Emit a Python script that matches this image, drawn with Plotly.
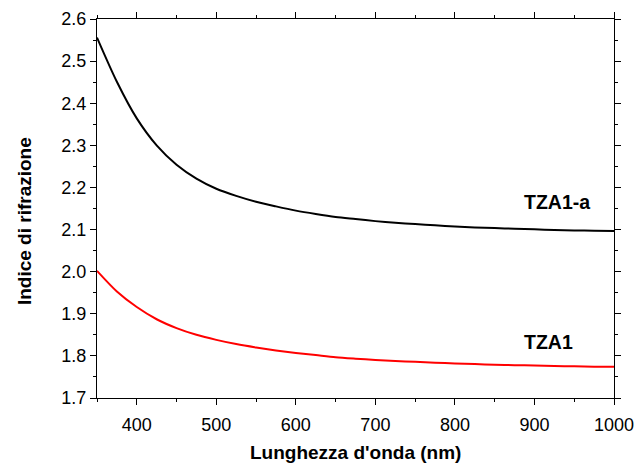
import plotly.graph_objects as go

wavelength = [350, 375, 400, 425, 450, 475, 500, 525, 550, 575, 600, 625, 650, 675, 700,
              725, 750, 775, 800, 825, 850, 875, 900, 925, 950, 975, 1000]
n_tza1a = [2.556, 2.451, 2.364, 2.300, 2.254, 2.221, 2.197, 2.180, 2.166, 2.155, 2.145, 2.137, 2.130, 2.125, 2.120,
           2.116, 2.113, 2.110, 2.1075, 2.105, 2.1035, 2.102, 2.1005, 2.099, 2.098, 2.097, 2.0965]
n_tza1 = [2.002, 1.953, 1.916, 1.887, 1.866, 1.850, 1.838, 1.828, 1.820, 1.813, 1.807, 1.802, 1.797, 1.7935, 1.7905,
          1.788, 1.7858, 1.7838, 1.782, 1.7805, 1.7792, 1.778, 1.777, 1.776, 1.7752, 1.7745, 1.774]

FONT = "Liberation Sans, Arial, sans-serif"

fig = go.Figure()
fig.add_trace(go.Scatter(x=wavelength, y=n_tza1a, mode="lines",
                         line=dict(color="black", width=2, shape="spline", smoothing=0.8), showlegend=False))
fig.add_trace(go.Scatter(x=wavelength, y=n_tza1, mode="lines",
                         line=dict(color="#ff0000", width=2, shape="spline", smoothing=0.8), showlegend=False))

axis_common = dict(showgrid=False, zeroline=False, showline=True, linecolor="black", linewidth=1.3,
                   mirror="allticks", ticks="outside", ticklen=6, tickwidth=1.3, tickcolor="black",
                   automargin=False,
                   tickfont=dict(family=FONT, size=18, color="black"))

fig.update_xaxes(range=[350, 1000], tickvals=[400, 500, 600, 700, 800, 900, 1000], ticklabelstandoff=4,
                 minor=dict(dtick=50, tick0=350, ticks="outside", ticklen=3, tickwidth=1.3, tickcolor="black"),
                 **axis_common)
fig.update_yaxes(range=[1.7, 2.6], dtick=0.1, tickformat=".1f",
                 minor=dict(dtick=0.05, ticks="outside", ticklen=3, tickwidth=1.3, tickcolor="black"),
                 **axis_common)

fig.add_annotation(x=884, y=2.166, xref="x", yref="y", text="<b>TZA1-a</b>", showarrow=False,
                   xanchor="left", yanchor="middle", font=dict(family=FONT, size=19.5, color="black"))
fig.add_annotation(x=884, y=1.834, xref="x", yref="y", text="<b>TZA1</b>", showarrow=False,
                   xanchor="left", yanchor="middle", font=dict(family=FONT, size=19.5, color="black"))

fig.add_annotation(x=0.5, y=-0.145, xref="paper", yref="paper", text="<b>Lunghezza d'onda (nm)</b>",
                   showarrow=False, xanchor="center", yanchor="middle",
                   font=dict(family=FONT, size=19, color="black"))
fig.add_annotation(x=-0.141, y=0.467, xref="paper", yref="paper", text="<b>Indice di rifrazione</b>",
                   showarrow=False, textangle=-90, xanchor="center", yanchor="middle",
                   font=dict(family=FONT, size=19, color="black"))

fig.update_layout(width=638, height=463, margin=dict(l=97, r=24, t=19, b=65),
                  plot_bgcolor="white", paper_bgcolor="white")

fig.write_html("out.html")
